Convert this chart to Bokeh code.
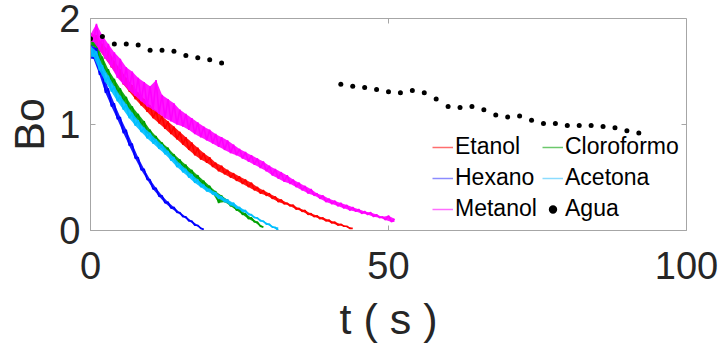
import math
from bokeh.plotting import figure
from bokeh.models import Range1d, FixedTicker, Legend, LegendItem
from bokeh.embed import file_html
from bokeh.resources import INLINE

# ---- data ----
step = 0.5  # sampling interval of the noisy series (s)

etanol = [1.86, 1.78, 1.84, 1.70, 1.76, 1.62, 1.70, 1.54, 1.60, 1.46, 1.52, 1.38, 1.44, 1.31, 1.37, 1.24,
          1.30, 1.18, 1.24, 1.12, 1.18, 1.06, 1.13, 1.01, 1.08, 0.96, 1.03, 0.91, 0.98, 0.86, 0.93, 0.81,
          0.88, 0.76, 0.83, 0.71, 0.78, 0.67, 0.73, 0.64, 0.69, 0.60, 0.64, 0.56, 0.61, 0.53, 0.57, 0.50,
          0.54, 0.47, 0.51, 0.44, 0.48, 0.41, 0.45, 0.38, 0.41, 0.35, 0.38, 0.33, 0.35, 0.30, 0.32, 0.27,
          0.29, 0.25, 0.26, 0.23, 0.24, 0.20, 0.21, 0.18, 0.19, 0.15, 0.16, 0.13, 0.14, 0.11, 0.12, 0.09,
          0.10, 0.07, 0.08, 0.05, 0.06, 0.04, 0.04, 0.02, 0.02]

cloroformo = [1.86, 1.74, 1.76, 1.60, 1.64, 1.49, 1.52, 1.39, 1.43, 1.30, 1.34, 1.22, 1.26, 1.14, 1.17, 1.06,
              1.10, 0.99, 1.03, 0.92, 0.95, 0.86, 0.89, 0.80, 0.83, 0.75, 0.78, 0.69, 0.72, 0.64, 0.67, 0.59,
              0.62, 0.54, 0.57, 0.49, 0.52, 0.44, 0.47, 0.40, 0.42, 0.35, 0.37, 0.26, 0.33, 0.27, 0.29, 0.23,
              0.24, 0.19, 0.20, 0.15, 0.16, 0.11, 0.12, 0.08, 0.08, 0.04, 0.03]

hexano = [1.75, 1.62, 1.72, 1.47, 1.50, 1.30, 1.34, 1.17, 1.20, 1.05, 1.07, 0.92, 0.95, 0.80, 0.82, 0.68,
          0.69, 0.57, 0.58, 0.48, 0.48, 0.39, 0.40, 0.32, 0.33, 0.26, 0.27, 0.21, 0.22, 0.17, 0.17, 0.13,
          0.13, 0.09, 0.09, 0.05, 0.05, 0.02, 0.01]

acetona = [1.74, 1.64, 1.69, 1.51, 1.56, 1.40, 1.46, 1.31, 1.36, 1.22, 1.27, 1.14, 1.19, 1.06, 1.11, 0.99,
           1.04, 0.93, 0.97, 0.87, 0.92, 0.82, 0.86, 0.77, 0.81, 0.72, 0.75, 0.66, 0.69, 0.60, 0.63, 0.55,
           0.58, 0.50, 0.53, 0.45, 0.48, 0.41, 0.43, 0.37, 0.39, 0.34, 0.36, 0.30, 0.32, 0.27, 0.29, 0.24,
           0.26, 0.21, 0.22, 0.18, 0.19, 0.15, 0.15, 0.12, 0.12, 0.09, 0.09, 0.06, 0.06, 0.03, 0.03, 0.00]

metanol = [1.85, 1.78, 1.95, 1.70, 1.84, 1.62, 1.76, 1.54, 1.68, 1.44, 1.62, 1.38, 1.54, 1.32, 1.50, 1.27,
           1.44, 1.22, 1.40, 1.17, 1.36, 1.14, 1.42, 1.10, 1.28, 1.06, 1.24, 1.03, 1.20, 1.00, 1.14, 0.98,
           1.10, 0.95, 1.06, 0.91, 1.02, 0.88, 0.98, 0.85, 0.95, 0.82, 0.91, 0.79, 0.88, 0.76, 0.85, 0.73,
           0.81, 0.71, 0.77, 0.68, 0.74, 0.65, 0.71, 0.62, 0.68, 0.59, 0.65, 0.56, 0.61, 0.52, 0.58, 0.49,
           0.55, 0.46, 0.52, 0.44, 0.48, 0.41, 0.45, 0.38, 0.42, 0.35, 0.39, 0.33, 0.35, 0.30, 0.33, 0.27,
           0.30, 0.25, 0.28, 0.23, 0.26, 0.21, 0.24, 0.19, 0.22, 0.18, 0.20, 0.16, 0.18, 0.15, 0.17, 0.13,
           0.15, 0.12, 0.13, 0.10, 0.14, 0.08, 0.11]

agua_t = [0, 2, 4, 6, 8, 10, 12, 14, 16, 18, 20, 22,
          42, 44, 46, 48, 50, 52, 54, 56, 58, 60, 62, 64, 66, 68, 70, 72, 74, 76, 78, 80,
          82, 84, 86, 88, 90, 92]
agua = [1.81, 1.83, 1.76, 1.76, 1.75, 1.70, 1.70, 1.69, 1.65, 1.63, 1.61, 1.58,
        1.38, 1.36, 1.35, 1.33, 1.31, 1.30, 1.32, 1.30, 1.24, 1.17, 1.16, 1.17, 1.14, 1.09,
        1.07, 1.08, 1.04, 1.01, 1.01, 0.99, 0.99, 0.99, 0.98, 0.97, 0.94, 0.92]

x_ticks = [0, 50, 100]
y_ticks = [0, 1, 2]

series = [  # name, values, plot colour, legend colour
    ("Etanol", etanol, "#ff0000", "#ff6e6e"),
    ("Cloroformo", cloroformo, "#00a000", "#6cc86c"),
    ("Hexano", hexano, "#0000ff", "#8c8cff"),
    ("Acetona", acetona, "#00bfff", "#8cdcff"),
    ("Metanol", metanol, "#ff00ff", "#ff6eff"),
]

def times(vals):
    return [i * step for i in range(len(vals))]

def envelope(vals):
    """band spanned by the noisy trace: each point against the mean of its neighbours"""
    n = len(vals)
    lo, hi = [], []
    for i in range(n):
        nb = [vals[j] for j in (i - 1, i + 1) if 0 <= j < n]
        m = sum(nb) / len(nb)
        lo.append(min(vals[i], m))
        hi.append(max(vals[i], m))
    return lo, hi

FONT = "Liberation Sans"
GRAY = "#a6a6a6"
TXT = "#262626"
NAN = float("nan")

p = figure(width=722, height=349, output_backend="svg", toolbar_location=None,
           x_range=Range1d(0, 100), y_range=Range1d(0, 2),
           min_border_left=90, min_border_right=36, min_border_top=18, min_border_bottom=119)
p.background_fill_color = "white"
p.border_fill_color = "white"
p.outline_line_color = GRAY
p.grid.visible = False

legend_r = {}
for name, vals, col, lcol in series:
    t = times(vals)
    lo, hi = envelope(vals)
    p.varea(x=t, y1=lo, y2=hi, fill_color=col, fill_alpha=0.9)
    p.line(t, vals, line_color=col, line_width=1.6)
    # legend-only renderer (no visible data), lighter as in the reference legend
    legend_r[name] = p.line([NAN], [NAN], line_color=lcol, line_width=1.5)

p.scatter(agua_t, agua, size=5, fill_color="black", line_color=None)
legend_r["Agua"] = p.scatter([NAN], [NAN], size=4, fill_color="black", line_color=None)

# inward ticks on the top and right edges of the box
p.ray(x=x_ticks, y=[2] * len(x_ticks), length=5, length_units="screen",
      angle=-math.pi / 2, line_color=GRAY, line_width=1)
p.ray(x=[100] * len(y_ticks), y=y_ticks, length=5, length_units="screen",
      angle=math.pi, line_color=GRAY, line_width=1)

xa = p.xaxis[0]
ya = p.yaxis[0]
xa.axis_label = "t ( s )"
ya.axis_label = "Bo"
xa.ticker = FixedTicker(ticks=x_ticks)
ya.ticker = FixedTicker(ticks=y_ticks)
for ax in (xa, ya):
    ax.axis_line_color = GRAY
    ax.major_tick_line_color = GRAY
    ax.major_tick_in = 5
    ax.major_tick_out = 0
    ax.minor_tick_line_color = None
    ax.major_label_text_font = FONT
    ax.major_label_text_color = TXT
    ax.major_label_text_font_size = "38px"
    ax.axis_label_text_font = FONT
    ax.axis_label_text_color = TXT
    ax.axis_label_text_font_size = "43px"
    ax.axis_label_text_font_style = "normal"
xa.major_label_standoff = 21
xa.axis_label_standoff = 13
ya.major_label_standoff = 10
ya.axis_label_standoff = 3

def make_legend(names, x):
    items = [LegendItem(label=n, renderers=[legend_r[n]]) for n in names]
    lg = Legend(items=items, location=(x, 8), orientation="vertical")
    lg.label_text_font = FONT
    lg.label_text_font_size = "23px"
    lg.label_text_color = "black"
    lg.glyph_width = 21
    lg.glyph_height = 24
    lg.label_height = 24
    lg.spacing = 4
    lg.padding = 0
    lg.margin = 0
    lg.label_standoff = 2
    lg.border_line_alpha = 0
    lg.background_fill_alpha = 0
    return lg

p.add_layout(make_legend(["Etanol", "Hexano", "Metanol"], 342))
p.add_layout(make_legend(["Cloroformo", "Acetona", "Agua"], 452))

open("out.html", "w").write(file_html(p, INLINE))
